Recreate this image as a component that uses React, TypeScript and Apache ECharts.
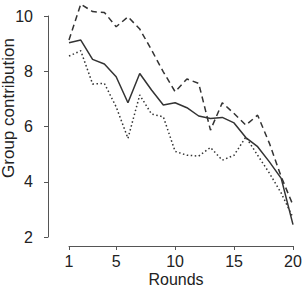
import React, { useEffect, useRef } from "react";
import * as echarts from "echarts";

const rounds = ["1","2","3","4","5","6","7","8","9","10","11","12","13","14","15","16","17","18","19","20"];
const shownRounds = ["1", "5", "10", "15", "20"];
const dashedHigh = [9.13, 10.43, 10.16, 10.13, 9.61, 9.97, 9.53, 8.77, 7.98, 7.26, 7.72, 7.56, 5.87, 6.86, 6.47, 6.05, 6.41, 5.39, 4.18, 3.15];
const solidMean = [9.03, 9.13, 8.43, 8.26, 7.8, 6.86, 7.92, 7.32, 6.78, 6.86, 6.68, 6.38, 6.29, 6.33, 6.13, 5.6, 5.27, 4.72, 4.12, 2.45];
const dottedLow = [8.55, 8.74, 7.54, 7.56, 6.71, 5.57, 7.14, 6.45, 6.35, 5.1, 4.96, 4.93, 5.24, 4.78, 4.96, 5.62, 4.96, 4.31, 3.59, 2.7];

const FONT = "'Liberation Sans', Arial, sans-serif";

export default function App() {
  const ref = useRef<HTMLDivElement>(null);
  useEffect(() => {
    if (!ref.current) return;
    const chart = echarts.init(ref.current, null, { renderer: "svg" });
    const lineStyle = (type: any) => ({ color: "#333", width: 1.5, type });
    const isShown = (_i: number, v: string) => shownRounds.includes(v);
    chart.setOption({
      animation: false,
      backgroundColor: "#fff",
      grid: { left: 69, right: 12, top: 16, bottom: 49, containLabel: false },
      xAxis: {
        type: "category",
        data: rounds,
        boundaryGap: false,
        offset: 9,
        axisLine: { lineStyle: { color: "#555", width: 1 } },
        axisTick: { show: true, length: 4, interval: isShown, lineStyle: { color: "#555" } },
        axisLabel: { interval: isShown, color: "#222", fontSize: 16, fontFamily: FONT, margin: 7 },
        splitLine: { show: false },
      },
      yAxis: {
        type: "value",
        min: 2,
        max: 10,
        interval: 2,
        offset: 21,
        axisLine: { show: true, lineStyle: { color: "#555", width: 1 } },
        axisTick: { show: true, length: 4, lineStyle: { color: "#555" } },
        axisLabel: { color: "#222", fontSize: 16, fontFamily: FONT, margin: 15 },
        splitLine: { show: false },
      },
      graphic: [
        {
          type: "text",
          x: 176,
          y: 271,
          style: { text: "Rounds", fill: "#222", font: `16px ${FONT}`, textAlign: "center", textVerticalAlign: "top" },
        },
        {
          type: "text",
          x: 8,
          y: 108,
          rotation: Math.PI / 2,
          style: { text: "Group contribution", fill: "#222", font: `17px ${FONT}`, textAlign: "center", textVerticalAlign: "middle" },
        },
      ],
      series: [
        { type: "line", data: dashedHigh, symbol: "none", clip: false, lineStyle: lineStyle([6, 4]) },
        { type: "line", data: solidMean, symbol: "none", clip: false, lineStyle: lineStyle("solid") },
        { type: "line", data: dottedLow, symbol: "none", clip: false, lineStyle: lineStyle([1.5, 2.5]) },
      ],
    });
    return () => chart.dispose();
  }, []);
  return <div ref={ref} style={{ position: "fixed", left: 0, top: 0, width: 305, height: 286 }} />;
}
